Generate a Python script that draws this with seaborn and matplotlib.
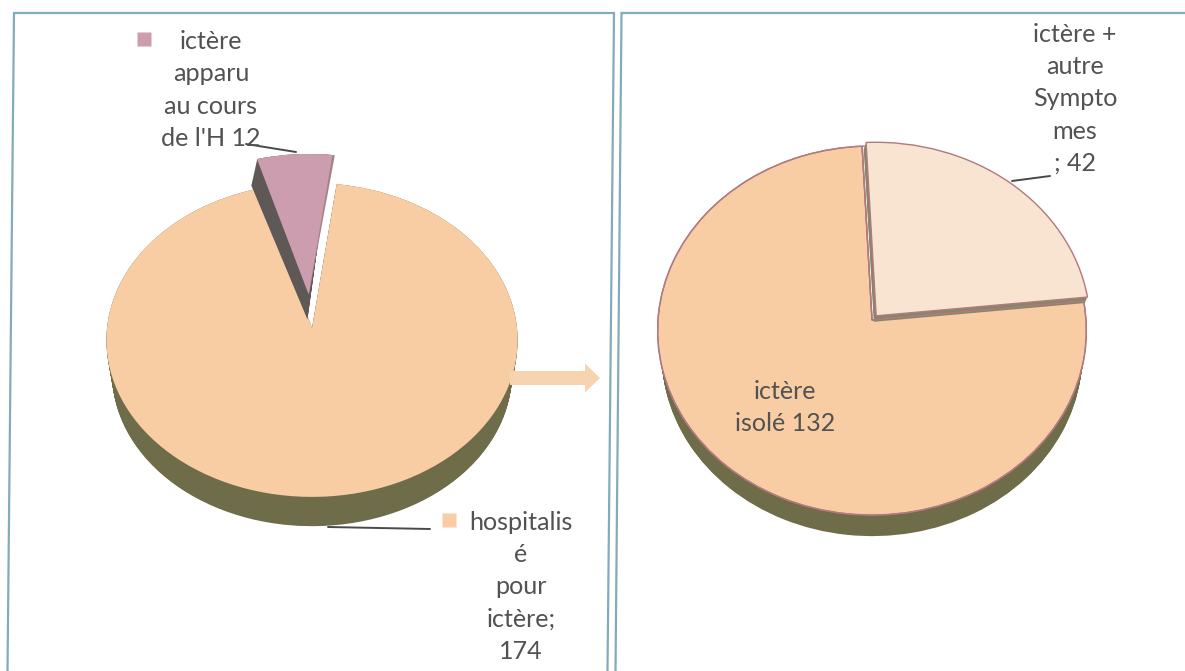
import numpy as np
import matplotlib
matplotlib.use("Agg")
import matplotlib.pyplot as plt
from matplotlib.transforms import Transform, Affine2D
import seaborn as sns

# Counts shown on the two pies
left_labels = ["hospitalisé pour ictère", "ictère apparu au cours de l'H"]
left_values = [174, 12]
right_labels = ["ictère isolé", "ictère + autre Symptomes"]
right_values = [132, 42]

PEACH, PINK, CREAM = sns.color_palette(["#F9CDA4", "#CC9DAE", "#F8E4D1"])
OLIVE = "#6F6C4A"
PINK_SIDE = "#5E5957"
PINK_EDGE = "#A3838A"
CREAM_SIDE = "#88866A"
RIM = "#B07A7E"
FRAME = "#84ABBB"
TEXT = "#525252"
ARROW = "#F7D4B0"

W, H = 1185, 671

sns.set_theme(style="white")
plt.rcParams["font.family"] = ["Lato", "DejaVu Sans"]


class Tilt(Transform):
    """Projects the flat unit pie onto a receding plane (far side shrinks)."""
    input_dims = 2
    output_dims = 2
    is_separable = False
    has_inverse = False

    def __init__(self, a, b, k):
        super().__init__()
        self.a, self.b, self.k = a, b, k

    def transform_non_affine(self, values):
        xy = np.asarray(values)
        w = 1 + self.k * xy[:, 1]
        return np.column_stack([self.a * xy[:, 0] / w, self.b * xy[:, 1] / w])


fig = plt.figure(figsize=(W / 100, H / 100), dpi=100)
ax = fig.add_axes([0, 0, 1, 1])


def py(v):
    return H - v


def slices(values, start, colors, geom, explode=(0, 0), dx=0, dy=0, scale=1.0,
           z=2, edge="none", lw=0):
    cx, cy, a, b, k = geom
    wedges, _ = ax.pie(values, startangle=start, colors=colors, explode=explode,
                       wedgeprops=dict(edgecolor=edge, linewidth=lw))
    tr = Tilt(a * scale, b * scale, k) + Affine2D().translate(cx + dx, py(cy + dy)) + ax.transData
    for w in wedges:
        w.set_transform(tr)
        w.set_zorder(z)
    return wedges


# Left pie: extruded rim, top face, then the lifted pink slice
left_geom = (312, 328, 205, 156, 0.0764)
left_start = 105.8
left_lift = (0, 0.22)
pink_start = 106.0
for i in range(35):
    slices(left_values, left_start, [OLIVE, "none"], left_geom, dy=i, scale=1 - 0.028 * i / 34, z=2)
slices(left_values, left_start, [PEACH, "none"], left_geom, z=3)
for i in range(26):
    slices(left_values, pink_start + 0.06 * i, ["none", PINK_SIDE], left_geom, explode=left_lift,
           dy=i, z=4)
slices(left_values, pink_start - 0.6, ["none", PINK_EDGE], left_geom, explode=left_lift, z=5)
slices(left_values, pink_start, ["none", PINK], left_geom, explode=left_lift, z=6)

# Right pie: rim, pale slice side, top faces with a thin rosy outline
right_geom = (872, 320, 214, 183.9, 0.057)
right_start = 92.8
right_lift = (0, 0.03)
for i in range(26):
    slices(right_values, right_start, [OLIVE, "none"], right_geom, dy=i, scale=1 - 0.02 * i / 25, z=2)
slices(right_values, right_start, [PEACH, "none"], right_geom, z=3, edge=RIM, lw=1.0)
for i in range(7):
    slices(right_values, right_start, ["none", CREAM_SIDE], right_geom, explode=right_lift,
           dx=-0.4 * i, dy=i, z=4)
slices(right_values, right_start, ["none", CREAM], right_geom, explode=right_lift, z=5, edge=RIM, lw=1.0)

# Panel frames
frames = [
    ([7.5, 14, 614, 607.5], [671, 13, 13, 671]),
    ([615.5, 621.5, 1185], [671, 13, 13]),
]
for xs, ys in frames:
    ax.plot(xs, [py(v) for v in ys], color=FRAME, lw=1.6, zorder=1, solid_joinstyle="miter")

# Arrow linking the two pies
ax.arrow(510, py(378), 90, 0, width=14, head_width=29, head_length=15,
         length_includes_head=True, color=ARROW, linewidth=0, zorder=7)

# Leader lines
leaders = [
    ([246, 296], [144, 152]),
    ([328, 430], [527, 529]),
    ([1012, 1050], [181, 176]),
]
for xs, ys in leaders:
    ax.plot(xs, [py(v) for v in ys], color="#4A4A4A", lw=1.4, zorder=8)

# Legend keys beside the outer labels
ax.plot([143.5], [py(39)], marker="s", ms=10.5, mec="none", color=PINK, zorder=8)
ax.plot([449], [py(520)], marker="s", ms=10.5, mec="none", color=PEACH, zorder=8)

# Data labels
texts = [
    (211, 90, f"ictère\napparu\nau cours\nde l'H {left_values[1]}"),
    (521, 587, f"hospitalis\né\npour\nictère;\n{left_values[0]}"),
    (1075, 99, f"ictère +\nautre\nSympto\nmes\n; {right_values[1]}"),
    (785, 407.5, f"ictère\nisolé {right_values[0]}"),
]
for x, y, s in texts:
    ax.text(x, py(y), s, ha="center", va="center", multialignment="center",
            fontsize=18.1, color=TEXT, linespacing=1.48, zorder=9)

ax.set_aspect("auto")
ax.set_xlim(0, W)
ax.set_ylim(0, H)
ax.axis("off")
fig.savefig("out.png", dpi=100, facecolor="white")
